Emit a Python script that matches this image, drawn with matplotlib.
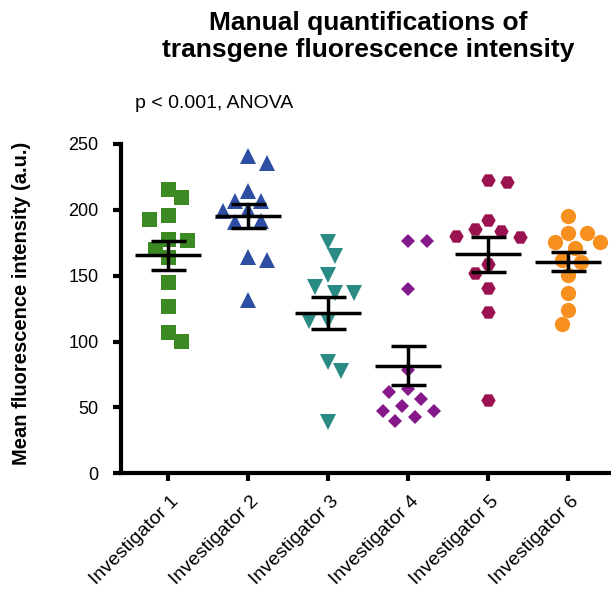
import numpy as np
import matplotlib
matplotlib.use("Agg")
import matplotlib.pyplot as plt
from matplotlib.transforms import ScaledTranslation

plt.rcParams['font.family'] = ['Liberation Sans', 'DejaVu Sans']

# values (a.u.)
investigators = ["Investigator 1", "Investigator 2", "Investigator 3",
                 "Investigator 4", "Investigator 5", "Investigator 6"]
inv1 = [215.8, 209.5, 196.4, 193.1, 178.0, 177.3, 170.5, 164.1, 145.3, 126.9, 107.5, 100.7]
inv2 = [240.9, 235.9, 214.5, 207.0, 207.0, 200.2, 199.4, 191.3, 190.6, 164.1, 161.6, 131.4]
inv3 = [175.5, 164.6, 150.3, 141.5, 137.0, 137.0, 115.8, 115.8, 84.8, 78.0, 39.0]
inv4 = [176.2, 176.2, 139.7, 78.5, 64.0, 61.7, 56.4, 50.8, 47.6, 47.6, 42.8, 40.0]
inv5 = [222.5, 221.5, 192.4, 185.6, 183.8, 179.8, 179.2, 159.1, 152.0, 141.0, 122.1, 55.9]
inv6 = [195.6, 182.3, 182.3, 175.5, 175.5, 171.2, 161.6, 160.4, 150.3, 137.0, 123.9, 113.1]
groups = [inv1, inv2, inv3, inv4, inv5, inv6]

colors = ["#3b8a24", "#2d4ea2", "#2a8b85", "#86198a", "#9a1350", "#f8901f"]
markers = ["s", "^", "v", "D", "H", "o"]
msizes = [10.8, 11.8, 11.8, 6.9, 10.3, 11.0]

fig = plt.figure(figsize=(6.11, 5.94), dpi=100)
ax = fig.add_axes([120.7 / 611, 1 - 473.3 / 594, 1 - 120.7 / 611, (473.3 - 144) / 594])
ax.set_xlim(0.405, 6.534)
ax.set_ylim(0, 250)

for s in ['top', 'right']:
    ax.spines[s].set_visible(False)
for s in ['left', 'bottom']:
    ax.spines[s].set_linewidth(3.0)
    ax.spines[s].set_capstyle('projecting')

ax.set_yticks([0, 50, 100, 150, 200, 250])
ax.set_xticks(range(1, 7))
ax.tick_params(width=3.0, length=6.0)
ax.tick_params(axis='y', labelsize=13, pad=10)
ax.set_xticklabels(investigators, rotation=45, ha='right', va='center',
                   rotation_mode='anchor', fontsize=14)
shift = ScaledTranslation(6 / 72, -9 / 72, fig.dpi_scale_trans)
for lab in ax.get_xticklabels():
    lab.set_transform(lab.get_transform() + shift)

# simple swarm layout in pixel space
step_px = 6.4
thresh_px = 15.0
px_x = ax.transData.transform((2, 0))[0] - ax.transData.transform((1, 0))[0]


def swarm(vals, pos):
    order = np.argsort(vals)[::-1]
    ypx = ax.transData.transform(np.column_stack([np.full(len(vals), pos), vals]))[:, 1]
    placed = []
    offs = np.zeros(len(vals))
    flip = 1
    for i in order:
        cands = [0]
        for j in range(1, 20):
            cands += [flip * j, -flip * j]
        for c in cands:
            dx = c * step_px
            ok = all(np.hypot(dx - px, ypx[i] - py) >= thresh_px for px, py in placed)
            if ok:
                placed.append((dx, ypx[i]))
                offs[i] = dx / px_x
                if c != 0:
                    flip = -np.sign(c)
                break
    return pos + offs


for i, vals in enumerate(groups):
    pos = i + 1
    xs = swarm(np.array(vals), pos)
    ax.plot(xs, vals, linestyle='none', marker=markers[i], markersize=msizes[i],
            color=colors[i], markeredgewidth=0, zorder=2)
    m = np.mean(vals)
    sem = np.std(vals, ddof=1) / np.sqrt(len(vals))
    ax.hlines(m, pos - 0.41, pos + 0.41, color='black', linewidth=2.5, zorder=3)
    ax.errorbar(pos, m, yerr=sem, fmt='none', ecolor='black', elinewidth=2.5,
                capsize=12.6, capthick=2.5, zorder=3)

fig.text(368 / 611, 1 - 11 / 594,
         "Manual quantifications of\ntransgene fluorescence intensity",
         ha='center', va='top', fontsize=19, fontweight='bold',
         linespacing=1.15, multialignment='center')
fig.text(135 / 611, 1 - 107.5 / 594, "p < 0.001, ANOVA", ha='left',
         va='baseline', fontsize=14)
fig.text(22 / 611, 1 - 303 / 594, "Mean fluorescence intensity (a.u.)",
         rotation=90, ha='center', va='center', fontsize=14.5, fontweight='bold')

fig.savefig("out.png", dpi=100)
